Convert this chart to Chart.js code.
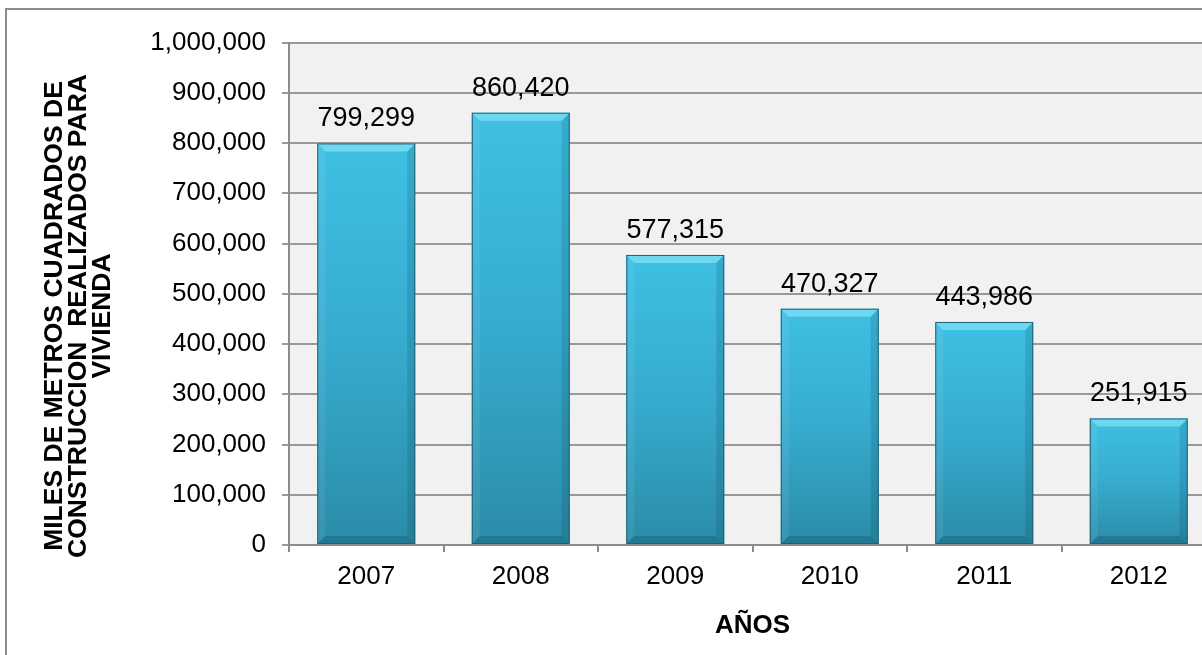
<!DOCTYPE html>
<html>
<head>
<meta charset="utf-8">
<script src="https://cdn.jsdelivr.net/npm/chart.js@4/dist/chart.umd.min.js"></script>
<style>
  html, body { margin: 0; padding: 0; background: #fff; overflow: hidden; }
  #marco {
    position: absolute; left: 5px; top: 8px;
    width: 1260px; height: 700px;
    border-left: 2px solid #8c8c8c; border-top: 2px solid #8c8c8c;
  }
  #wrap { position: absolute; left: 1px; top: 1px; width: 1240px; height: 680px; }
</style>
</head>
<body>
<div id="marco"><div id="wrap"><canvas id="grafico"></canvas></div></div>
<script>
// datos
const anios = ['2007', '2008', '2009', '2010', '2011', '2012'];
const metros = [799299, 860420, 577315, 470327, 443986, 251915];
const ejeMin = 0;
const ejeMax = 1000000;
const ejePaso = 100000;
const tituloY = ['MILES DE METROS CUADRADOS DE', 'CONSTRUCCION  REALIZADOS PARA', 'VIVIENDA'];
const tituloX = 'AÑOS';

const fmt = v => Number(v).toLocaleString('en-US');
const familia = 'Arial, "Liberation Sans", sans-serif';

// fondo gris del area de trazado
const fondoPlugin = {
  id: 'fondo',
  beforeDraw(chart) {
    const a = chart.chartArea, ctx = chart.ctx;
    ctx.save();
    ctx.fillStyle = '#f1f1f1';
    ctx.fillRect(a.left, a.top, a.right - a.left, a.bottom - a.top);
    ctx.restore();
  }
};

// biselado de las barras + etiquetas de valor
const biselPlugin = {
  id: 'bisel',
  afterDatasetsDraw(chart) {
    const ctx = chart.ctx;
    const meta = chart.getDatasetMeta(0);
    const b = 8;
    ctx.save();
    meta.data.forEach((bar, i) => {
      const l = bar.x - bar.width / 2, r = bar.x + bar.width / 2;
      const t = bar.y, bot = bar.base;
      const poly = (pts, color) => {
        ctx.beginPath();
        ctx.moveTo(pts[0][0], pts[0][1]);
        pts.slice(1).forEach(p => ctx.lineTo(p[0], p[1]));
        ctx.closePath();
        ctx.fillStyle = color;
        ctx.fill();
      };
      poly([[l, t], [r, t], [r - b, t + b], [l + b, t + b]], 'rgba(160,240,255,0.5)');
      poly([[l, t], [l + b, t + b], [l + b, bot - b], [l, bot]], 'rgba(255,255,255,0.07)');
      poly([[r, t], [r - b, t + b], [r - b, bot - b], [r, bot]], 'rgba(0,40,60,0.14)');
      poly([[l, bot], [l + b, bot - b], [r - b, bot - b], [r, bot]], 'rgba(0,40,60,0.2)');
      ctx.strokeStyle = '#1d6276';
      ctx.lineWidth = 1;
      ctx.strokeRect(l + 0.5, t + 0.5, bar.width - 1, bot - t - 1);

      ctx.fillStyle = '#000';
      ctx.font = '27px ' + familia;
      ctx.textAlign = 'center';
      ctx.textBaseline = 'alphabetic';
      ctx.fillText(fmt(metros[i]), bar.x, t - 17);
    });
    ctx.restore();
  }
};

// titulo del eje Y en tres lineas
const tituloYPlugin = {
  id: 'tituloY',
  afterDraw(chart) {
    const ctx = chart.ctx;
    ctx.save();
    ctx.translate(47, 305);
    ctx.rotate(-Math.PI / 2);
    ctx.fillStyle = '#000';
    ctx.font = 'bold 26.5px ' + familia;
    ctx.textAlign = 'center';
    ctx.textBaseline = 'middle';
    tituloY.forEach((linea, k) => ctx.fillText(linea, 0, k * 24));
    ctx.restore();
  }
};

new Chart(document.getElementById('grafico'), {
  type: 'bar',
  data: {
    labels: anios,
    datasets: [{
      data: metros,
      backgroundColor: (c) => {
        const chart = c.chart;
        if (!chart.chartArea || c.dataIndex === undefined) return '#3ab5d8';
        const ys = chart.scales.y;
        const top = ys.getPixelForValue(metros[c.dataIndex]);
        const bot = ys.getPixelForValue(0);
        const g = chart.ctx.createLinearGradient(0, top, 0, bot);
        g.addColorStop(0, '#3fc0e3');
        g.addColorStop(0.5, '#36abcf');
        g.addColorStop(1, '#2b8ca7');
        return g;
      },
      borderWidth: 0,
      categoryPercentage: 1,
      barPercentage: 0.634
    }]
  },
  options: {
    responsive: true,
    maintainAspectRatio: false,
    animation: false,
    layout: { padding: { top: 27, right: 32, bottom: 0, left: 0 } },
    plugins: {
      legend: { display: false },
      tooltip: { enabled: false }
    },
    scales: {
      x: {
        grid: { drawOnChartArea: false, drawTicks: true, tickLength: 7, color: '#8c8c8c', lineWidth: 2 },
        border: { color: '#8c8c8c', width: 2 },
        ticks: { color: '#000', padding: 9, font: { family: familia, size: 26 } },
        title: {
          display: true, text: tituloX, color: '#000',
          font: { family: familia, size: 26, weight: 'bold' },
          padding: { top: 0, bottom: 50 }
        },
        afterFit(scale) { scale.height = 146; }
      },
      y: {
        min: ejeMin, max: ejeMax,
        grid: { color: '#999999', lineWidth: 2, tickLength: 7 },
        border: { color: '#8c8c8c', width: 2 },
        ticks: {
          stepSize: ejePaso, color: '#000', padding: 16,
          font: { family: familia, size: 26 },
          callback: v => fmt(v)
        },
        afterFit(scale) { scale.width = 281; }
      }
    }
  },
  plugins: [fondoPlugin, biselPlugin, tituloYPlugin]
});
</script>
</body>
</html>
